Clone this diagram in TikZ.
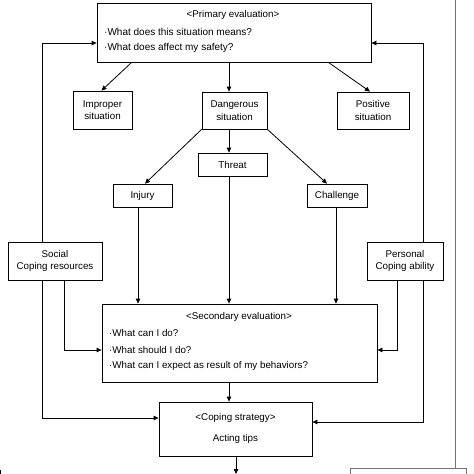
\documentclass[tikz,border=0pt]{standalone}
\usepackage{fontspec}
\setmainfont{Liberation Sans}
\usetikzlibrary{arrows.meta}
\begin{document}
\begin{tikzpicture}[x=1pt,y=-1pt,
  box/.style={draw,line width=0.8pt,inner sep=0pt,align=center,font=\fontsize{9.8}{12.5}\selectfont},
  txt/.style={inner sep=0pt,font=\fontsize{9.8}{12}\selectfont},
  ln/.style={line width=0.8pt},
  arr/.style={line width=0.8pt,-{Triangle[length=5pt,width=4.5pt]}}]
\useasboundingbox (0,0) rectangle (474,474);
% boxes
\node[box,minimum width=274pt,minimum height=59pt] (prim) at (234,32.5) {};
\node[txt] (primt) at (233,15) {<Primary evaluation>};
\node[txt,anchor=west,font=\fontsize{10}{12}\selectfont] (prim1) at (104,32) {·What does this situation means?};
\node[txt,anchor=west,font=\fontsize{10}{12}\selectfont] (prim2) at (104,48) {·What does affect my safety?};
\node[box,minimum width=59pt,minimum height=38pt] (impr) at (102.5,110) {Improper\\situation};
\node[box,minimum width=65pt,minimum height=37pt] (dang) at (234.5,110.5) {Dangerous\\situation};
\node[box,minimum width=72pt,minimum height=37pt] (posi) at (373,110.5) {Positive\\situation};
\node[box,minimum width=69pt,minimum height=23pt] (thr) at (232.5,164.5) {Threat};
\node[box,minimum width=59pt,minimum height=23pt] (inj) at (142.5,195.5) {Injury};
\node[box,minimum width=60pt,minimum height=23pt] (chal) at (337,195.5) {Challenge};
\node[box,minimum width=94pt,minimum height=38pt] (soc) at (55,261) {Social\\Coping resources};
\node[box,minimum width=76pt,minimum height=38pt] (pers) at (405,261) {Personal\\Coping ability};
\node[box,minimum width=275pt,minimum height=78pt] (sec) at (239.5,343) {};
\node[txt] (sect) at (239,317) {<Secondary evaluation>};
\node[txt,anchor=west] (sec1) at (109,333) {·What can I do?};
\node[txt,anchor=west] (sec2) at (109,350) {·What should I do?};
\node[txt,anchor=west] (sec3) at (109,366) {·What can I expect as result of my behaviors?};
\node[box,minimum width=153pt,minimum height=54pt] (cop) at (235.5,429) {};
\node[txt] (copt) at (235.5,418) {<Coping strategy>};
\node[txt] (copa) at (235.5,439) {Acting tips};
% column/row coordinates
\coordinate (cA) at (229,0);
\coordinate (cI) at (138,0);
\coordinate (cC) at (336,0);
\coordinate (cL) at (42,0);
\coordinate (cL2) at (64,0);
\coordinate (cR) at (423,0);
\coordinate (cR2) at (397,0);
\coordinate (cB) at (236,0);
\coordinate (fb) at (0,43);
\coordinate (ysec) at (0,350);
\coordinate (ycl) at (0,418);
\coordinate (ycr) at (0,422);
\coordinate (bot) at (0,474);
% connectors
\draw[arr] ([xshift=35pt]prim.south west) -- ([xshift=-1pt]impr.north);
\draw[arr] (prim.south -| cA) -- (dang.north -| cA);
\draw[arr] ([xshift=-43pt]prim.south east) -- ([xshift=-3pt]posi.north);
\draw[arr] (dang.south -| cA) -- (thr.north -| cA);
\draw[arr] (dang.south west) -- ([xshift=2.5pt]inj.north);
\draw[arr] (dang.south east) -- ([xshift=-10pt]chal.north);
\draw[arr] (inj.south -| cI) -- (sec.north -| cI);
\draw[arr] (thr.south -| cA) -- (sec.north -| cA);
\draw[arr] (chal.south -| cC) -- (sec.north -| cC);
\draw[arr] (soc.north -| cL) -- (cL |- fb) -- (prim.west |- fb);
\draw[arr] (pers.north -| cR) -- (cR |- fb) -- (prim.east |- fb);
\draw[arr] (soc.south -| cL) |- (cop.west |- ycl);
\draw[arr] (soc.south -| cL2) |- (sec.west |- ysec);
\draw[arr] (pers.south -| cR) |- (cop.east |- ycr);
\draw[arr] (pers.south -| cR2) |- (sec.east |- ysec);
\draw[arr] (sec.south -| cA) -- (cop.north -| cA);
\draw[arr] (cop.south -| cB) -- (cB |- bot);
% partial frame at right/bottom
\draw[line width=0.9pt,black!55] (455,-2) -- (455,468);
\draw[line width=0.9pt,black!55] (350,476) -- (350,468) -- (466,468) -- (466,476);
\draw[line width=0.8pt] (0.5,470) -- (0.5,475);
\end{tikzpicture}
\end{document}
